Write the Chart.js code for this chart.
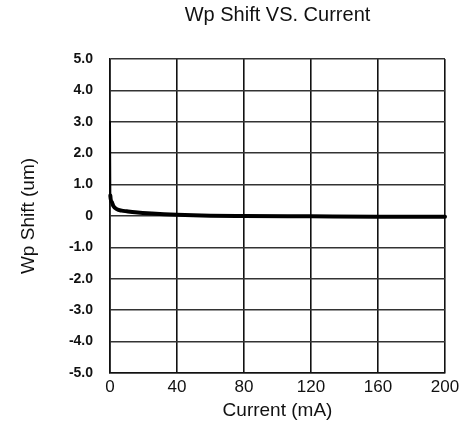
<!DOCTYPE html>
<html lang="en">
<head>
    <meta charset="UTF-8">
    <title>Wp Shift VS. Current</title>
    <script src="https://cdn.jsdelivr.net/npm/chart.js"></script>
    <style>
        html, body { margin: 0; padding: 0; background: #fff; }
        #wrap { width: 464px; height: 427px; }
    </style>
</head>
<body>
    <div id="wrap"><canvas id="chart" width="464" height="427"></canvas></div>
    <script>
        // current (mA) and Wp shift (um)
        const current = [0, 0.2, 1, 2, 4, 7, 10, 15, 25, 40, 60, 80, 120, 160, 200];
        const wpShift = [3.0, 0.65, 0.45, 0.32, 0.22, 0.17, 0.15, 0.12, 0.08, 0.04, 0.01, 0, -0.01, -0.02, -0.02];
        const xTicks = [0, 40, 80, 120, 160, 200];
        const yTicks = [5, 4, 3, 2, 1, 0, -1, -2, -3, -4, -5];

        const font = 'Arial, "Liberation Sans", sans-serif';

        new Chart(document.getElementById('chart'), {
            type: 'line',
            data: {
                datasets: [{
                    data: current.map((c, i) => ({ x: c, y: wpShift[i] })),
                    borderColor: '#000',
                    borderWidth: 4,
                    borderCapStyle: 'round',
                    pointRadius: 0,
                    cubicInterpolationMode: 'monotone',
                    // the first drop at 0 mA is drawn thin, along the axis
                    segment: { borderWidth: ctx => ctx.p0DataIndex === 0 ? 2 : 4 },
                    clip: 6
                }]
            },
            options: {
                responsive: false,
                animation: false,
                layout: { padding: { left: 17, right: 19, top: 0, bottom: 5 } },
                plugins: {
                    legend: { display: false },
                    tooltip: { enabled: false },
                    title: {
                        display: true,
                        text: 'Wp Shift VS. Current',
                        fullSize: false,
                        color: '#111',
                        font: { family: font, size: 20, weight: 'normal' },
                        padding: { top: 3, bottom: 32 }
                    }
                },
                scales: {
                    x: {
                        type: 'linear',
                        min: 0,
                        max: 200,
                        afterBuildTicks: s => { s.ticks = xTicks.map(v => ({ value: v })); },
                        afterFit: s => { s.height = 49; },
                        grid: { color: '#111', lineWidth: 1.6, drawTicks: false },
                        border: { color: '#111', width: 1.6 },
                        ticks: { color: '#111', padding: 4, maxRotation: 0, font: { family: font, size: 17 } },
                        title: {
                            display: true,
                            text: 'Current (mA)',
                            color: '#111',
                            padding: 0,
                            font: { family: font, size: 19 }
                        }
                    },
                    y: {
                        min: -5,
                        max: 5,
                        afterBuildTicks: s => { s.ticks = yTicks.map(v => ({ value: v })); },
                        afterFit: s => { s.width = 93; },
                        grid: { color: '#333', lineWidth: 1.6, drawTicks: false },
                        border: { color: '#111', width: 1.6 },
                        ticks: {
                            color: '#111',
                            padding: 17,
                            font: { family: font, size: 14, weight: 'bold' },
                            callback: v => v === 0 ? '0' : v.toFixed(1)
                        },
                        title: {
                            display: true,
                            text: 'Wp Shift (um)',
                            color: '#111',
                            padding: 0,
                            font: { family: font, size: 19 }
                        }
                    }
                }
            }
        });
    </script>
</body>
</html>
